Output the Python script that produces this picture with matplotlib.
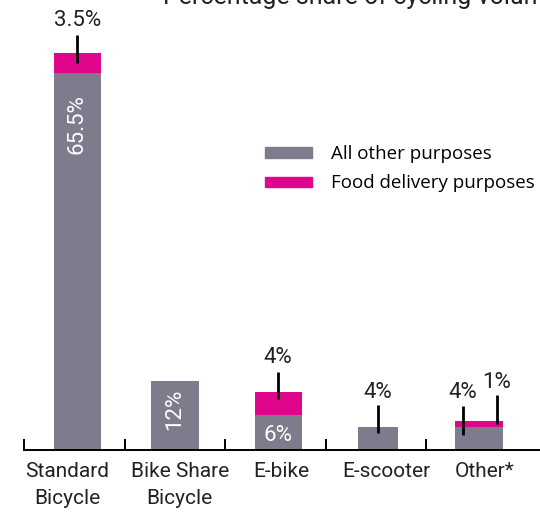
import matplotlib
matplotlib.use('Agg')
import matplotlib.pyplot as plt
from matplotlib.patches import Patch

categories = ['Standard\nBicycle', 'Bike Share\nBicycle', 'E-bike', 'E-scooter', 'Other*']
other_purposes = [65.5, 12, 6, 4, 4]
food_delivery = [3.5, 0, 4, 0, 1]

gray = '#7f7b8c'
pink = '#e0068c'

plt.rcParams['font.family'] = ['Roboto', 'DejaVu Sans']

fig = plt.figure(figsize=(5.4, 5.15), dpi=100)
ax = fig.add_axes([24 / 540, 65 / 515, 516 / 540, 450 / 515])

x = [0.03, 1.0, 2.03, 3.02, 4.03]
widths = [0.47, 0.48, 0.47, 0.40, 0.48]
ax.bar(x, other_purposes, width=widths, color=gray, label='All other purposes')
ax.bar(x, food_delivery, width=widths, bottom=other_purposes, color=pink,
       label='Food delivery purposes')

ax.set_xlim(-0.5, -0.5 + 516 / 100.5)
ax.set_ylim(0, 450 / 5.76)

for s in ['top', 'right', 'left']:
    ax.spines[s].set_visible(False)
ax.spines['bottom'].set_linewidth(1.4)
ax.set_yticks([])
ax.set_xticks([-0.5, 0.5, 1.5, 2.5, 3.5])
ax.set_xticklabels([])
ax.tick_params(axis='x', direction='in', length=8, width=1.4)

# category labels below the axis
label_x = [-0.07, 1.05, 2.06, 3.11, 4.08]
for xi, name in zip(label_x, categories):
    ax.text(xi, -2.1, name, ha='center', va='top', fontsize=15,
            color='#222222', linespacing=1.55)

# labels inside bars
ax.text(x[0], 56.5, '65.5%', rotation=90, ha='center', va='center',
        color='white', fontsize=16)
ax.text(x[1], 7.0, '12%', rotation=90, ha='center', va='center',
        color='white', fontsize=16)
ax.text(x[2], 2.5, '6%', ha='center', va='center', color='white', fontsize=16)

# callout lines and labels
def callout(xc, y0, y1, txt, tx, ty):
    ax.plot([xc, xc], [y0, y1], color='black', lw=2, solid_capstyle='butt')
    ax.text(tx, ty, txt, ha='center', va='center', fontsize=16, color='#222222')

callout(x[0], 67.2, 72.0, '3.5%', x[0], 74.6)
callout(x[2], 8.8, 13.5, '4%', x[2], 16.0)
callout(x[3], 2.9, 7.8, '4%', x[3], 9.9)
callout(3.868, 2.6, 7.6, '4%', 3.868, 9.9)
callout(4.206, 4.6, 9.5, '1%', 4.206, 11.8)

handles = [Patch(color=gray), Patch(color=pink)]
ax.legend(handles, ['All other purposes', 'Food delivery purposes'],
          loc='upper left', bbox_to_anchor=(230 / 516, 316 / 450),
          frameon=False, handlelength=2.5, handleheight=0.5,
          handletextpad=1.0, labelspacing=0.6, borderaxespad=0.2,
          prop={'family': 'Open Sans', 'size': 13.5})

fig.text(163 / 540, 1 - 4 / 515, 'Percentage share of cycling volume',
         ha='left', va='baseline', fontsize=18, color='#222222')

fig.savefig('out.png', dpi=100)
